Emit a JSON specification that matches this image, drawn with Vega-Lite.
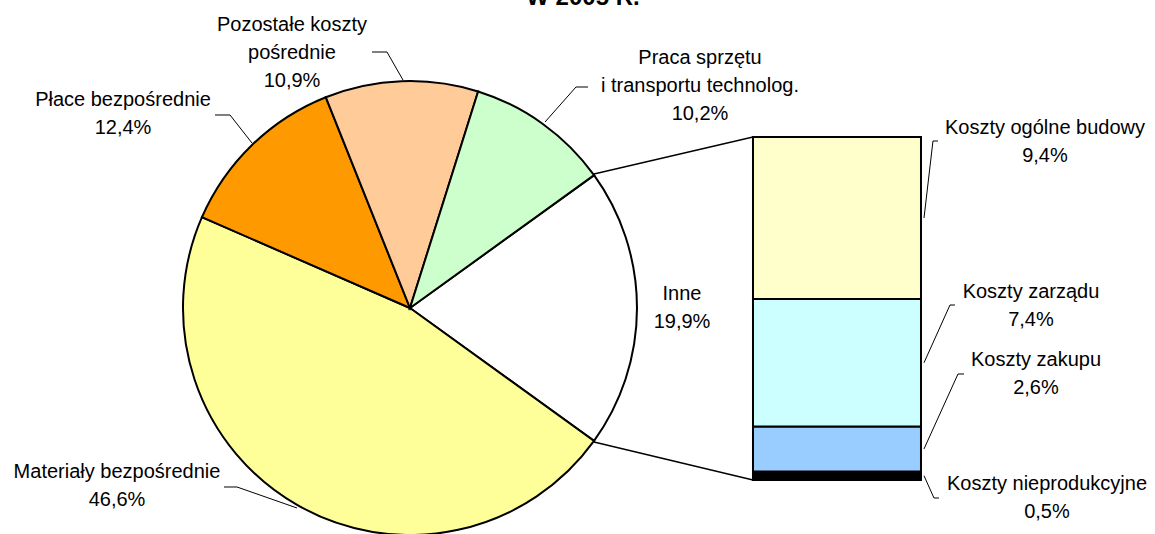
{
  "$schema": "https://vega.github.io/schema/vega-lite/v6.json",
  "width": 1155,
  "height": 534,
  "autosize": {"type": "none"},
  "padding": 0,
  "background": "white",
  "config": {
    "view": {"stroke": null},
    "axis": {"disable": true},
    "legend": {"disable": true},
    "text": {"font": "Liberation Sans", "fontSize": 20, "align": "center", "baseline": "middle", "lineHeight": 28, "color": "black"},
    "rule": {"color": "black", "strokeWidth": 1}
  },
  "datasets": {
    "pie": [
      {"name": "Inne", "value": 19.9, "order": 1, "label": ["Inne", "19,9%"]},
      {"name": "Materiały bezpośrednie", "value": 46.6, "order": 2, "label": ["Materiały bezpośrednie", "46,6%"]},
      {"name": "Płace bezpośrednie", "value": 12.4, "order": 3, "label": ["Płace bezpośrednie", "12,4%"]},
      {"name": "Pozostałe koszty pośrednie", "value": 10.9, "order": 4, "label": ["Pozostałe koszty", "pośrednie", "10,9%"]},
      {"name": "Praca sprzętu i transportu technolog.", "value": 10.2, "order": 5, "label": ["Praca sprzętu", "i transportu technolog.", "10,2%"]}
    ],
    "bar": [
      {"name": "Koszty nieprodukcyjne", "value": 0.5, "order": 1, "label": ["Koszty nieprodukcyjne", "0,5%"]},
      {"name": "Koszty zakupu", "value": 2.6, "order": 2, "label": ["Koszty zakupu", "2,6%"]},
      {"name": "Koszty zarządu", "value": 7.4, "order": 3, "label": ["Koszty zarządu", "7,4%"]},
      {"name": "Koszty ogólne budowy", "value": 9.4, "order": 4, "label": ["Koszty ogólne budowy", "9,4%"]}
    ]
  },
  "layer": [
    {
      "data": {"name": "pie"},
      "transform": [{"filter": "datum.name === 'Inne'"}],
      "layer": [
        {
          "mark": {"type": "rule", "strokeWidth": 1.3},
          "encoding": {
            "x": {"datum": 34.463, "type": "quantitative", "scale": {"domain": [0, 67.011], "nice": false, "zero": false}, "axis": null},
            "y": {"datum": 17.754, "type": "quantitative", "scale": {"domain": [-3.133, 27.849], "nice": false, "zero": false}, "axis": null},
            "x2": {"datum": 43.687},
            "y2": {"datum": 19.9}
          }
        },
        {
          "mark": {"type": "rule", "strokeWidth": 1.3},
          "encoding": {
            "x": {"datum": 34.463, "type": "quantitative"},
            "y": {"datum": 2.205, "type": "quantitative"},
            "x2": {"datum": 43.687},
            "y2": {"datum": 0}
          }
        },
        {
          "mark": {"type": "text"},
          "encoding": {
            "x": {"datum": 39.568, "type": "quantitative"},
            "y": {"datum": 10.791, "type": "quantitative"},
            "text": {"field": "label"}
          }
        }
      ]
    },
    {
      "data": {"name": "pie"},
      "mark": {"type": "arc", "outerRadius": 227, "stroke": "black", "strokeWidth": 2},
      "encoding": {
        "x": {"datum": 23.787, "type": "quantitative"},
        "y": {"datum": 9.979, "type": "quantitative"},
        "theta": {"field": "value", "type": "quantitative", "stack": true, "scale": {"range": [0.9457, 7.2289]}},
        "order": {"field": "order", "type": "quantitative"},
        "color": {
          "field": "name",
          "type": "nominal",
          "legend": null,
          "scale": {
            "domain": ["Inne", "Materiały bezpośrednie", "Płace bezpośrednie", "Pozostałe koszty pośrednie", "Praca sprzętu i transportu technolog.", "Koszty nieprodukcyjne", "Koszty zakupu", "Koszty zarządu", "Koszty ogólne budowy"],
            "range": ["#FFFFFF", "#FFFF99", "#FF9900", "#FFCC99", "#CCFFCC", "#000000", "#99CCFF", "#CCFFFF", "#FFFFCC"]
          }
        }
      }
    },
    {
      "data": {"name": "bar"},
      "transform": [{"stack": "value", "groupby": [], "sort": [{"field": "order", "order": "ascending"}], "as": ["v0", "v1"]}],
      "mark": {"type": "rect", "stroke": "black", "strokeWidth": 2},
      "encoding": {
        "x": {"datum": 43.687, "type": "quantitative"},
        "x2": {"datum": 53.434},
        "y": {"field": "v0", "type": "quantitative"},
        "y2": {"field": "v1"},
        "color": {"field": "name", "type": "nominal", "legend": null}
      }
    },
    {
      "data": {"name": "pie"},
      "transform": [{"filter": "datum.name === 'Płace bezpośrednie'"}],
      "layer": [
        {"mark": {"type": "rule"}, "encoding": {"x": {"datum": 12.474, "type": "quantitative"}, "y": {"datum": 21.177, "type": "quantitative"}, "x2": {"datum": 13.344}, "y2": {"datum": 21.177}}},
        {"mark": {"type": "rule"}, "encoding": {"x": {"datum": 13.344, "type": "quantitative"}, "y": {"datum": 21.177, "type": "quantitative"}, "x2": {"datum": 14.620}, "y2": {"datum": 19.552}}},
        {"mark": {"type": "text"}, "encoding": {"x": {"datum": 7.136, "type": "quantitative"}, "y": {"datum": 22.047, "type": "quantitative"}, "text": {"field": "label"}}}
      ]
    },
    {
      "data": {"name": "pie"},
      "transform": [{"filter": "datum.name === 'Pozostałe koszty pośrednie'"}],
      "layer": [
        {"mark": {"type": "rule"}, "encoding": {"x": {"datum": 21.583, "type": "quantitative"}, "y": {"datum": 24.832, "type": "quantitative"}, "x2": {"datum": 22.453}, "y2": {"datum": 24.832}}},
        {"mark": {"type": "rule"}, "encoding": {"x": {"datum": 22.453, "type": "quantitative"}, "y": {"datum": 24.832, "type": "quantitative"}, "x2": {"datum": 23.381}, "y2": {"datum": 23.207}}},
        {"mark": {"type": "text"}, "encoding": {"x": {"datum": 16.941, "type": "quantitative"}, "y": {"datum": 26.398, "type": "quantitative"}, "text": {"field": "label"}}}
      ]
    },
    {
      "data": {"name": "pie"},
      "transform": [{"filter": "datum.name === 'Praca sprzętu i transportu technolog.'"}],
      "layer": [
        {"mark": {"type": "rule"}, "encoding": {"x": {"datum": 33.418, "type": "quantitative"}, "y": {"datum": 22.801, "type": "quantitative"}, "x2": {"datum": 34.114}, "y2": {"datum": 22.801}}},
        {"mark": {"type": "rule"}, "encoding": {"x": {"datum": 33.418, "type": "quantitative"}, "y": {"datum": 22.801, "type": "quantitative"}, "x2": {"datum": 31.620}, "y2": {"datum": 20.770}}},
        {"mark": {"type": "text"}, "encoding": {"x": {"datum": 40.612, "type": "quantitative"}, "y": {"datum": 24.484, "type": "quantitative"}, "text": {"field": "label"}}}
      ]
    },
    {
      "data": {"name": "pie"},
      "transform": [{"filter": "datum.name === 'Materiały bezpośrednie'"}],
      "layer": [
        {"mark": {"type": "rule"}, "encoding": {"x": {"datum": 12.996, "type": "quantitative"}, "y": {"datum": -0.406, "type": "quantitative"}, "x2": {"datum": 13.750}, "y2": {"datum": -0.406}}},
        {"mark": {"type": "rule"}, "encoding": {"x": {"datum": 13.750, "type": "quantitative"}, "y": {"datum": -0.406, "type": "quantitative"}, "x2": {"datum": 17.231}, "y2": {"datum": -1.625}}},
        {"mark": {"type": "text"}, "encoding": {"x": {"datum": 6.788, "type": "quantitative"}, "y": {"datum": 0.464, "type": "quantitative"}, "text": {"field": "label"}}}
      ]
    },
    {
      "data": {"name": "bar"},
      "transform": [{"filter": "datum.name === 'Koszty ogólne budowy'"}],
      "layer": [
        {"mark": {"type": "rule"}, "encoding": {"x": {"datum": 53.608, "type": "quantitative"}, "y": {"datum": 15.2, "type": "quantitative"}, "x2": {"datum": 54.130}, "y2": {"datum": 19.668}}},
        {"mark": {"type": "rule"}, "encoding": {"x": {"datum": 54.130, "type": "quantitative"}, "y": {"datum": 19.668, "type": "quantitative"}, "x2": {"datum": 54.420}, "y2": {"datum": 19.668}}},
        {"mark": {"type": "text"}, "encoding": {"x": {"datum": 60.628, "type": "quantitative"}, "y": {"datum": 20.422, "type": "quantitative"}, "text": {"field": "label"}}}
      ]
    },
    {
      "data": {"name": "bar"},
      "transform": [{"filter": "datum.name === 'Koszty zarządu'"}],
      "layer": [
        {"mark": {"type": "rule"}, "encoding": {"x": {"datum": 53.608, "type": "quantitative"}, "y": {"datum": 6.8, "type": "quantitative"}, "x2": {"datum": 55.117}, "y2": {"datum": 10.153}}},
        {"mark": {"type": "rule"}, "encoding": {"x": {"datum": 55.117, "type": "quantitative"}, "y": {"datum": 10.153, "type": "quantitative"}, "x2": {"datum": 55.407}, "y2": {"datum": 10.153}}},
        {"mark": {"type": "text"}, "encoding": {"x": {"datum": 59.816, "type": "quantitative"}, "y": {"datum": 10.907, "type": "quantitative"}, "text": {"field": "label"}}}
      ]
    },
    {
      "data": {"name": "bar"},
      "transform": [{"filter": "datum.name === 'Koszty zakupu'"}],
      "layer": [
        {"mark": {"type": "rule"}, "encoding": {"x": {"datum": 53.608, "type": "quantitative"}, "y": {"datum": 1.8, "type": "quantitative"}, "x2": {"datum": 55.581}, "y2": {"datum": 6.150}}},
        {"mark": {"type": "rule"}, "encoding": {"x": {"datum": 55.581, "type": "quantitative"}, "y": {"datum": 6.150, "type": "quantitative"}, "x2": {"datum": 55.929}, "y2": {"datum": 6.150}}},
        {"mark": {"type": "text"}, "encoding": {"x": {"datum": 60.106, "type": "quantitative"}, "y": {"datum": 6.962, "type": "quantitative"}, "text": {"field": "label"}}}
      ]
    },
    {
      "data": {"name": "bar"},
      "transform": [{"filter": "datum.name === 'Koszty nieprodukcyjne'"}],
      "layer": [
        {"mark": {"type": "rule"}, "encoding": {"x": {"datum": 53.608, "type": "quantitative"}, "y": {"datum": 0.25, "type": "quantitative"}, "x2": {"datum": 54.188}, "y2": {"datum": -1.044}}},
        {"mark": {"type": "rule"}, "encoding": {"x": {"datum": 54.188, "type": "quantitative"}, "y": {"datum": -1.044, "type": "quantitative"}, "x2": {"datum": 54.478}, "y2": {"datum": -1.044}}},
        {"mark": {"type": "text"}, "encoding": {"x": {"datum": 60.744, "type": "quantitative"}, "y": {"datum": -0.232, "type": "quantitative"}, "text": {"field": "label"}}}
      ]
    },
    {
      "data": {"values": [{"title": "W 2005 R."}]},
      "mark": {"type": "text", "fontWeight": "bold", "fontSize": 24, "baseline": "alphabetic"},
      "encoding": {
        "x": {"datum": 33.824, "type": "quantitative"},
        "y": {"datum": 27.558, "type": "quantitative"},
        "text": {"field": "title"}
      }
    }
  ]
}
